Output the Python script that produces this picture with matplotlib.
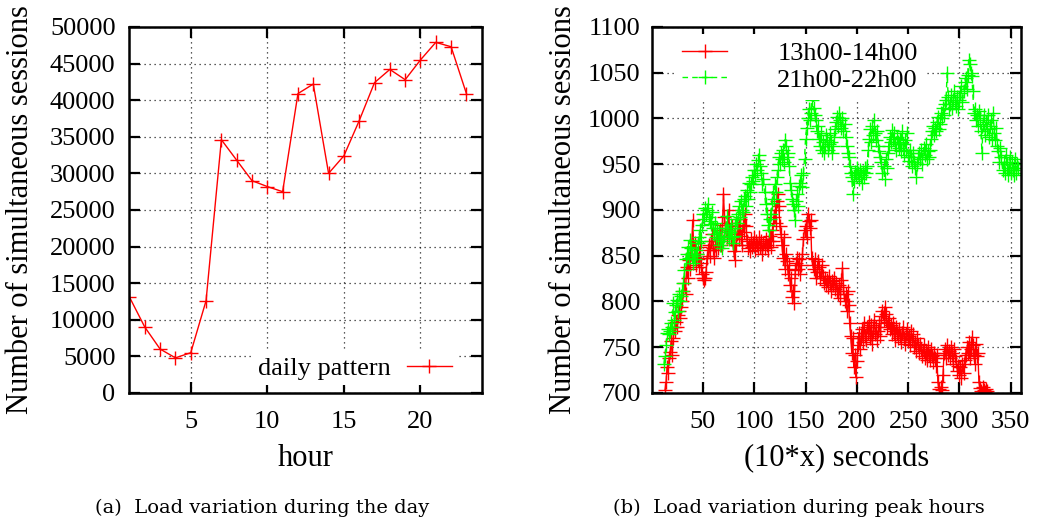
import matplotlib
matplotlib.use('Agg')
import matplotlib.pyplot as plt
import numpy as np

# (a) daily pattern
hours = list(range(1, 24))
daily = [13100, 9000, 6000, 4800, 5500, 12600, 34600, 31800, 29000, 28200,
         27500, 40900, 42200, 30000, 32400, 37200, 42400, 44200, 42800, 45500,
         47900, 47300, 40900]

# (b) peak hours, one sample every 10 s
red_start = 13
red = [703, 712, 728, 722, 738, 745, 757, 742,
       760, 772, 768, 778, 772, 785, 790, 782, 794, 800,
       812, 820, 808, 838, 826, 845, 835, 852, 860, 889,
       858, 864, 840, 852, 846, 838, 860, 842, 830, 826,
       823, 826, 832, 848, 856, 862, 850, 866, 874, 858,
       848, 862, 856, 870, 858, 866, 878, 862, 884, 918,
       892, 880, 870, 886, 900, 876, 868, 882, 864, 855,
       845, 862, 874, 880, 868, 890, 872, 862, 884, 876,
       896, 882, 866, 858, 862, 855, 868, 860, 864, 870,
       856, 866, 862, 858, 870, 860, 866, 852, 864, 858,
       868, 862, 856, 866, 872, 860, 878, 866, 892, 900,
       886, 910, 918, 904, 882, 874, 862, 848, 870, 836,
       852, 844, 830, 840, 818, 826, 805, 812, 798, 834,
       842, 848, 836, 846, 830, 840, 852, 868, 878, 882,
       870, 896, 888, 880, 889, 848, 840, 836, 846, 826,
       832, 844, 838, 826, 832, 840, 828, 820, 826, 818,
       824, 816, 828, 820, 812, 822, 818, 826, 814, 820,
       812, 808, 818, 804, 824, 837, 816, 800, 808, 790,
       812, 796, 776, 762, 744, 760, 728, 742, 717, 735,
       752, 766, 748, 760, 770, 756, 776, 762, 758, 772,
       766, 778, 760, 774, 754, 768, 780, 764, 772, 758,
       768, 776, 762, 784, 790, 780, 794, 786, 772, 778,
       782, 770, 774, 764, 776, 768, 758, 772, 766, 760,
       770, 762, 756, 766, 772, 760, 754, 764, 770, 758,
       762, 752, 768, 758, 764, 750, 756, 746, 760, 752,
       744, 754, 748, 740, 752, 738, 746, 736, 750, 742,
       736, 748, 740, 734, 744, 738, 730, 742, 712, 704,
       700, 706, 703, 720, 744, 748, 738, 752, 742, 746,
       738, 750, 744, 732, 748, 740, 735, 724, 730, 720,
       728, 716, 732, 722, 736, 742, 750, 744, 756, 738,
       748, 761, 752, 742, 732, 754, 740, 744, 712, 705,
       702, 700, 706, 703, 701, 704, 702]

green_start = 12
green = [732, 740, 752, 766, 770, 764, 768, 776, 772,
         798, 780, 788, 796, 802, 790, 808, 800, 806, 812,
         820, 834, 846, 852, 860, 848, 867, 858, 852, 842,
         850, 846, 856, 852, 864, 870, 878, 866, 884, 896,
         890, 902, 896, 900, 906, 892, 888, 885, 898, 880,
         874, 886, 870, 880, 868, 876, 862, 870, 858, 866,
         872, 880, 893, 878, 868, 876, 884, 870, 864, 872,
         880, 890, 886, 896, 904, 892, 910, 900, 898, 912,
         915, 904, 922, 912, 930, 920, 928, 936, 932, 944,
         938, 950, 944, 955, 960, 948, 940, 928, 934, 920,
         906, 896, 884, 878, 890, 896, 908, 920, 912, 928,
         920, 936, 944, 958, 950, 962, 956, 966, 952, 977,
         970, 958, 962, 948, 930, 922, 912, 906, 900, 889,
         910, 918, 904, 926, 930, 938, 925, 940, 956, 978,
         990, 1000, 1010, 998, 1006, 1020, 1028, 1012, 1004, 998,
         986, 992, 978, 970, 984, 966, 974, 962, 970, 982,
         976, 966, 972, 984, 974, 962, 970, 980, 988, 996,
         1002, 992, 1006, 998, 990, 1000, 986, 994, 980, 970,
         962, 958, 948, 940, 936, 918, 932, 942, 938, 946,
         940, 934, 944, 938, 930, 942, 936, 946, 940, 948,
         966, 978, 988, 974, 992, 982, 998, 984, 976, 986,
         970, 964, 958, 952, 940, 948, 934, 956, 946, 962,
         970, 980, 974, 987, 978, 984, 972, 966, 980, 974,
         968, 978, 964, 986, 972, 960, 976, 966, 984, 958,
         954, 966, 958, 948, 962, 952, 946, 936, 950, 958,
         962, 956, 966, 950, 968, 960, 972, 956, 964, 958,
         966, 978, 986, 992, 982, 990, 986, 996, 1002, 988,
         994, 1006, 1000, 1012, 1004, 1016, 1020, 1050, 1024, 1010,
         1016, 1026, 1012, 1020, 1030, 1018, 1014, 1024, 1010, 1020,
         1028, 1036, 1018, 1030, 1040, 1044, 1032, 1048, 1064, 1060,
         1050, 1046, 1030, 1006, 1010, 998, 1004, 992, 1008, 1000,
         986, 962, 994, 1004, 982, 996, 988, 1004, 980, 992,
         998, 978, 1006, 984, 976, 990, 970, 964, 952, 968,
         958, 944, 952, 940, 960, 950, 938, 946, 958, 940,
         952, 944, 938, 956, 940, 950, 946]

red_x = np.arange(red_start, red_start + len(red))
green_x = np.arange(green_start, green_start + len(green))

plt.rcParams['font.family'] = ['Liberation Serif', 'DejaVu Serif']
fs = 19     # tick labels, legend
lfs = 22    # axis labels

fig = plt.figure(figsize=(10.4, 5.23), dpi=100)
ax1 = fig.add_axes([0.1245, 0.2486, 0.3387, 0.6998])
ax2 = fig.add_axes([0.6266, 0.2486, 0.3551, 0.6998])

grid_kw = dict(color='black', linestyle=(0, (1, 3)), linewidth=0.9, alpha=0.85)

def style(ax):
    for sp in ax.spines.values():
        sp.set_linewidth(1.8)
    ax.tick_params(direction='in', length=8, width=1.6, top=True, right=True,
                   labelsize=fs)
    ax.tick_params(axis='x', pad=13)
    ax.tick_params(axis='y', pad=10)
    ax.grid(True, **grid_kw)
    ax.set_axisbelow(True)

def white_frame(leg):
    fr = leg.get_frame()
    fr.set_edgecolor('none')
    fr.set_facecolor('white')
    fr.set_alpha(1)

# left panel
ax1.plot(hours, daily, color='red', linewidth=1, marker='+', markersize=10,
         markeredgewidth=1, label='daily pattern')
ax1.set_xlim(1, 24)
ax1.set_ylim(0, 50000)
ax1.set_xticks([5, 10, 15, 20])
ax1.set_yticks(np.arange(0, 50001, 5000))
style(ax1)
ax1.set_xlabel('hour', fontsize=lfs, va='center')
ax1.xaxis.set_label_coords(0.5, -0.18)
ax1.set_ylabel('Number of simultaneous sessions', fontsize=lfs, va='center')
ax1.yaxis.set_label_coords(-0.308, 0.5)
leg1 = ax1.legend(loc='lower right', bbox_to_anchor=(1 - 22 / 352, 5 / 366),
                  fontsize=fs, markerfirst=False, numpoints=1,
                  handlelength=1.7, handletextpad=0.6, borderaxespad=0.1,
                  borderpad=0.2, fancybox=False)
white_frame(leg1)

# right panel
ax2.plot(red_x, red, color='red', linewidth=1, marker='+', markersize=10,
         markeredgewidth=1, label='13h00-14h00')
ax2.plot(green_x, green, color='#00ff00', linewidth=1, linestyle=(0, (4, 3)),
         marker='+', markersize=10, markeredgewidth=1, label='21h00-22h00')
ax2.set_xlim(0, 360)
ax2.set_ylim(700, 1100)
ax2.set_xticks(np.arange(50, 351, 50))
ax2.set_yticks(np.arange(700, 1101, 50))
style(ax2)
ax2.tick_params(axis='y', pad=8)
ax2.set_xlabel('(10*x) seconds', fontsize=lfs, va='center')
ax2.xaxis.set_label_coords(0.5, -0.18)
ax2.set_ylabel('Number of simultaneous sessions', fontsize=lfs, va='center')
ax2.yaxis.set_label_coords(-0.240, 0.5)
leg2 = ax2.legend(loc='upper left', bbox_to_anchor=(20 / 369, 1 - 4 / 366),
                  fontsize=fs, numpoints=1,
                  handlelength=1.7, handletextpad=1.9, borderaxespad=0.1,
                  borderpad=0.3, labelspacing=0.12, fancybox=False)
white_frame(leg2)

cap_kw = dict(fontsize=14, family='DejaVu Serif', ha='center', va='center')
fig.text(262 / 1040, 1 - 508 / 523, '(a)  Load variation during the day', **cap_kw)
fig.text(799 / 1040, 1 - 508 / 523, '(b)  Load variation during peak hours', **cap_kw)

fig.savefig('out.png', dpi=100)
